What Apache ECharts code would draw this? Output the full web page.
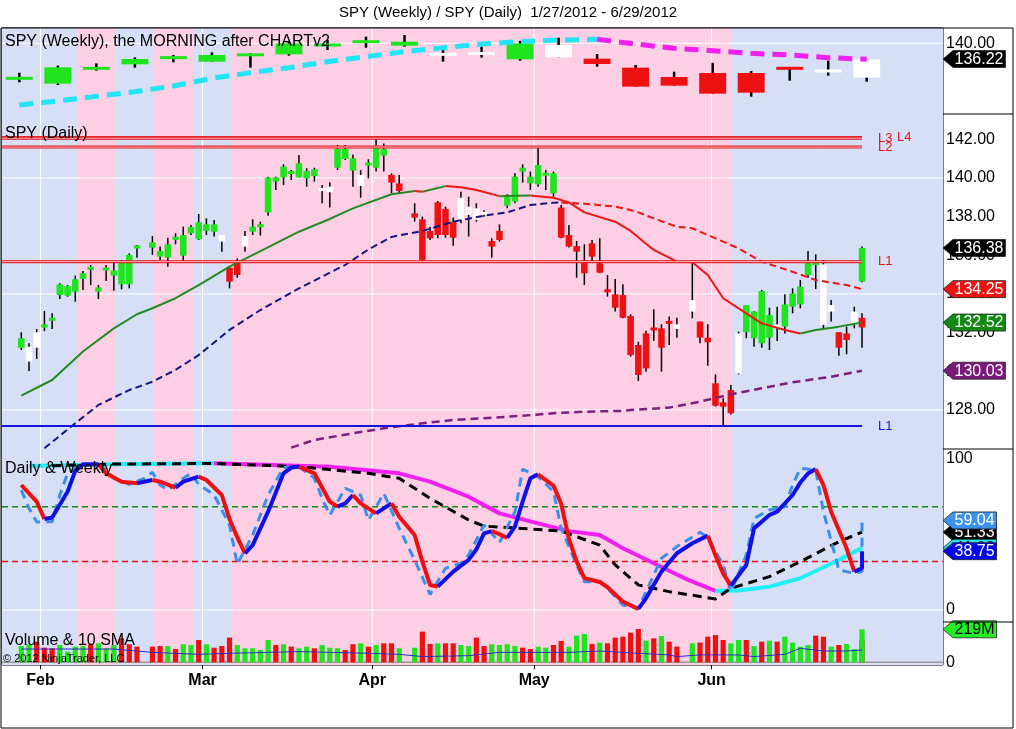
<!DOCTYPE html>
<html>
<head>
<meta charset="utf-8">
<title>SPY (Weekly) / SPY (Daily)</title>
<script src="https://cdn.jsdelivr.net/npm/echarts@6.0.0/dist/echarts.min.js"></script>
<style>
html,body{margin:0;padding:0;background:#fff;}
#chart{width:1016px;height:729px;}
</style>
</head>
<body>
<div id="chart"></div>
<script>
const FONT = '"Liberation Sans", Arial, Helvetica, sans-serif';

// ---------------- WEEKLY PANEL ----------------
const weeklyDates = ['1/27','2/3','2/10','2/17','2/24','3/2','3/9','3/16','3/23','3/30','4/5','4/13','4/20','4/27','5/4','5/11','5/18','5/25','6/1','6/8','6/15','6/22','6/29'];
// [bodyTop, bodyBottom, high, low, paint]
const weeklyBars = [
 [131.62,131.52,132.90,130.60,'G'],[134.21,130.27,134.61,129.95,'G'],[134.02,133.92,135.17,133.41,'G'],
 [136.22,134.93,136.62,134.13,'G'],[136.60,136.50,137.18,135.41,'G'],[137.18,135.57,137.82,135.57,'G'],
 [137.30,137.15,137.58,134.13,'G'],[139.99,137.34,140.39,137.02,'G'],[139.83,139.35,140.80,138.39,'G'],
 [140.45,140.33,141.60,138.95,'G'],[140.39,139.43,142.00,139.19,'G'],[137.40,137.28,138.39,135.57,'W'],
 [137.60,137.50,139.19,136.54,'W'],[139.99,136.14,140.60,135.81,'G'],[139.59,136.62,141.36,136.62,'W'],
 [136.30,135.01,137.42,134.37,'R'],[134.13,129.55,134.77,129.55,'R'],[131.88,129.79,133.16,129.79,'R'],
 [132.84,127.86,135.30,127.86,'R'],[132.84,128.10,133.33,127.14,'R'],[134.05,133.90,134.05,131.00,'R'],
 [133.38,133.28,135.81,132.20,'W'],[136.10,131.72,136.10,130.75,'W']
];
const weeklyMA = [125.13,126.10,127.22,128.34,129.71,131.56,132.92,134.13,135.57,136.78,137.98,138.95,139.83,140.39,140.80,140.96,139.83,138.79,138.22,137.58,137.18,136.54,136.14];
// background paint per week (B = blue, P = pink)
const weekBands = ['B','B','P','B','P','B','P','P','P','P','P','P','P','P','P','P','P','P','P','B','B','B','B'];

// ---------------- DAILY PANEL ----------------
// [date, bodyTop, bodyBottom, high, low, paint]
const dailyBars = [
['1/27',131.71,131.22,132.02,131.10,'G'],['1/30',131.27,130.50,131.45,130.02,'W'],['1/31',132.02,131.22,132.19,130.64,'W'],
['2/1',132.43,132.26,133.12,132.08,'G'],['2/2',132.69,132.69,133.00,132.19,'G'],['2/3',134.50,133.95,134.55,133.74,'G'],
['2/6',134.41,133.91,134.46,133.86,'G'],['2/7',134.76,134.12,134.95,133.60,'G'],['2/8',135.07,134.78,135.19,134.21,'G'],
['2/9',135.33,135.33,135.50,134.46,'G'],['2/10',134.34,134.12,134.46,133.74,'G'],['2/13',135.29,135.29,135.50,134.67,'G'],
['2/14',135.21,134.95,135.67,134.17,'G'],['2/15',135.64,134.50,135.76,134.24,'G'],['2/16',136.02,134.50,136.10,134.29,'G'],
['2/17',136.43,136.43,136.53,135.88,'G'],['2/21',136.67,136.40,137.00,136.02,'G'],['2/22',136.22,135.93,136.45,135.76,'G'],
['2/23',136.57,135.88,136.91,135.41,'G'],['2/24',136.88,136.88,137.14,136.57,'G'],['2/27',137.05,135.98,137.48,135.71,'G'],
['2/28',137.47,137.14,137.57,137.05,'G'],['2/29',137.71,136.83,138.14,136.79,'G'],['3/1',137.60,137.26,137.91,137.05,'G'],
['3/2',137.60,137.22,137.83,136.97,'G'],['3/5',137.05,136.71,137.05,136.19,'W'],['3/6',135.36,134.64,135.36,134.29,'R'],
['3/7',135.67,134.98,135.84,134.84,'R'],['3/8',137.00,136.45,137.26,136.19,'W'],['3/9',137.48,137.22,137.86,137.05,'G'],
['3/12',137.53,137.53,137.74,137.02,'G'],['3/13',140.02,138.22,140.07,138.05,'G'],['3/14',140.03,139.81,140.07,139.38,'G'],
['3/15',140.59,140.03,140.71,139.64,'G'],['3/16',140.28,140.28,140.41,139.90,'G'],['3/19',140.76,140.03,141.19,140.02,'G'],
['3/20',140.36,139.98,140.50,139.55,'G'],['3/21',140.45,140.10,140.53,139.81,'G'],['3/22',139.40,139.40,139.64,138.69,'W'],
['3/23',139.55,139.26,139.78,138.47,'W'],['3/26',141.50,140.53,141.71,140.41,'G'],['3/27',141.50,140.98,141.71,140.93,'G'],
['3/28',141.02,140.38,141.22,139.55,'G'],['3/29',140.16,139.59,140.41,138.98,'W'],['3/30',140.72,140.72,140.97,139.98,'G'],
['4/2',141.67,140.53,142.09,140.33,'G'],['4/3',141.50,141.16,141.79,140.33,'G'],['4/4',140.16,139.76,140.24,139.21,'R'],
['4/5',139.72,139.33,140.16,139.21,'R'],['4/9',138.17,137.95,138.69,137.74,'R'],['4/10',137.86,135.76,138.00,135.71,'R'],
['4/11',137.26,136.88,137.48,136.79,'R'],['4/12',138.74,137.05,138.81,136.88,'R'],['4/13',138.40,137.05,138.52,136.91,'R'],
['4/16',137.74,136.91,137.95,136.50,'R'],['4/17',138.98,137.83,139.29,137.66,'W'],['4/18',138.52,138.09,139.03,136.97,'W'],
['4/19',138.43,137.83,138.69,137.74,'W'],['4/20',138.17,138.17,138.33,138.00,'W'],['4/23',136.74,136.45,136.88,135.88,'R'],
['4/24',137.26,136.79,137.60,136.71,'R'],['4/25',139.12,138.57,139.16,138.43,'G'],['4/26',140.07,138.78,140.24,138.69,'G'],
['4/27',140.53,140.33,140.71,139.76,'G'],['4/30',140.07,139.72,140.33,139.38,'G'],['5/1',140.67,139.67,141.62,139.55,'G'],
['5/2',140.19,140.19,140.41,139.38,'G'],['5/3',140.24,139.21,140.33,139.03,'G'],['5/4',138.47,136.91,138.60,136.88,'R'],
['5/7',137.05,136.45,137.57,136.40,'R'],['5/8',136.48,136.19,136.74,134.84,'R'],['5/9',135.71,135.07,136.57,134.46,'R'],
['5/10',136.62,135.93,136.79,135.67,'R'],['5/11',135.59,135.10,136.88,135.07,'R'],['5/14',134.24,134.09,134.98,133.86,'R'],
['5/15',133.98,133.29,134.78,133.09,'R'],['5/16',133.95,132.77,134.50,132.74,'R'],['5/17',132.86,130.84,132.95,130.76,'R'],
['5/18',131.36,129.81,131.53,129.50,'R'],['5/21',131.96,130.15,132.10,129.98,'R'],['5/22',132.19,132.19,133.21,131.57,'R'],
['5/23',132.22,131.22,132.43,129.98,'R'],['5/24',132.53,132.53,132.83,131.36,'R'],['5/25',132.43,132.19,132.77,131.74,'W'],
['5/29',133.69,133.09,135.67,132.74,'W'],['5/30',132.57,131.74,132.57,131.45,'R'],['5/31',131.74,131.50,132.43,130.29,'R'],
['6/1',129.38,128.22,129.84,128.17,'R'],['6/4',128.39,128.17,128.60,127.14,'R'],['6/5',129.03,127.83,129.29,127.77,'R'],
['6/6',131.96,129.89,132.05,129.84,'W'],['6/7',133.43,132.02,133.43,131.71,'G'],['6/8',133.09,131.71,133.10,131.27,'G'],
['6/11',134.15,131.45,134.21,131.22,'G'],['6/12',132.91,131.74,133.29,131.10,'G'],['6/13',132.40,132.30,133.34,131.57,'W'],
['6/14',133.46,132.31,133.98,131.96,'G'],['6/15',134.03,133.34,134.29,133.00,'G'],['6/18',134.38,133.46,134.72,133.26,'G'],
['6/19',135.59,134.98,136.22,134.84,'G'],['6/20',135.67,135.50,136.05,134.26,'G'],['6/21',135.53,132.40,135.76,132.22,'W'],
['6/22',133.43,133.09,133.69,132.57,'W'],['6/25',132.02,131.22,132.02,130.81,'R'],['6/26',131.96,131.62,132.31,130.88,'R'],
['6/27',133.09,132.40,133.34,132.22,'W'],['6/28',132.77,132.27,133.00,131.22,'R'],['6/29',136.38,134.64,136.45,134.60,'G']
];
const ma20 = [['1/27',128.74],['2/2',129.55],['2/8',131.02],['2/14',132.22],['2/17',132.95],['2/21',133.26],['2/24',133.78],['2/29',134.46],['3/6',135.41],['3/12',136.22],['3/19',137.22],['3/23',137.88],['3/28',138.43],['4/4',139.16],['4/9',139.33],['4/10',139.29],['4/13',139.58],['4/17',139.52],['4/19',139.38],['4/24',139.06],['4/26',139.08],['4/30',139.10],['5/3',138.98],['5/7',138.74],['5/9',138.22],['5/15',137.74],['5/17',137.26],['5/21',136.60],['5/22',136.28],['5/25',135.67],['5/29',135.64],['5/31',134.98],['6/4',133.78],['6/7',133.00],['6/11',132.48],['6/14',132.14],['6/18',131.96],['6/20',132.14],['6/25',132.31],['6/28',132.52]];
const ma50 = [['2/1',126.02],['2/7',127.31],['2/10',128.26],['2/16',129.03],['2/21',129.46],['2/24',130.07],['2/29',130.84],['3/6',132.14],['3/12',133.17],['3/19',134.29],['3/23',135.10],['3/27',135.50],['3/30',136.30],['4/4',136.95],['4/10',137.26],['4/16',137.74],['4/20',138.05],['4/25',138.22],['4/30',138.60],['5/3',138.72],['5/4',138.73],['5/9',138.67],['5/15',138.52],['5/17',138.34],['5/18',138.22],['5/22',137.91],['5/25',137.48],['5/29',137.40],['6/1',136.88],['6/6',136.36],['6/11',135.67],['6/15',135.15],['6/20',134.72],['6/26',134.46],['6/28',134.25]];
const ma200 = [['3/16',126.05],['3/21',126.45],['3/28',126.79],['4/3',127.05],['4/10',127.31],['4/16',127.48],['4/20',127.57],['4/27',127.70],['5/3',127.83],['5/9',127.91],['5/16',127.95],['5/17',128.00],['5/21',128.05],['5/24',128.12],['5/30',128.43],['6/5',128.81],['6/11',129.12],['6/15',129.43],['6/22',129.72],['6/28',130.03]];
const levelNames  = ['L4','L3','L2','L1','L1'];
const levelValues = [142.10,142.06,141.60,135.67,127.17];
const levelKinds  = ['red','red','red','red','blue'];
const dailyTicks = [128,130,132,134,136,138,140,142];
const dailyGrid = [128,134,140];

// ---------------- OSCILLATOR PANEL ----------------
const oscSlow = [['1/27',82.4],['1/31',71.4],['2/1',60],['2/2',61],['2/6',78],['2/7',91.7],['2/8',96],['2/10',96],['2/13',90.1],['2/15',84.6],['2/17',83.5],['2/21',85.7],['2/22',84.6],['2/24',80.6],['2/27',84.6],['2/29',87.9],['3/1',85.7],['3/5',75.8],['3/6',60],['3/7',48],['3/8',37.4],['3/9',42.8],['3/13',64.8],['3/15',90.1],['3/16',93.9],['3/19',94.5],['3/21',90.1],['3/23',71.4],['3/26',68.1],['3/27',70.3],['3/28',75.8],['3/29',70.3],['4/2',63.7],['4/4',70.3],['4/5',61.5],['4/9',49.4],['4/10',31.9],['4/11',16.5],['4/12',15.4],['4/16',25.3],['4/18',33],['4/19',40],['4/20',50.5],['4/23',52],['4/24',50],['4/25',47.5],['4/26',55],['4/27',71.4],['4/30',86.8],['5/1',89.4],['5/3',82],['5/4',70],['5/7',47],['5/8',32],['5/9',21],['5/11',18.5],['5/14',15],['5/16',5.5],['5/18',0.7],['5/21',7.7],['5/23',25.3],['5/25',37.4],['5/29',44],['5/31',49],['6/1',36],['6/4',24],['6/5',16.1],['6/7',29.7],['6/8',53.8],['6/12',62.6],['6/13',64.8],['6/15',75.8],['6/18',84],['6/19',90],['6/20',92.9],['6/21',82.4],['6/22',64.8],['6/26',40.7],['6/27',25.3],['6/28',27.5],['6/29',38.75]];
const oscFast = [['1/27',79],['1/30',67],['1/31',58],['2/2',58.2],['2/3',75.8],['2/6',90],['2/8',96],['2/10',95.6],['2/13',92.3],['2/14',86.8],['2/16',82.8],['2/20',86.8],['2/21',90.8],['2/22',82.4],['2/23',79.1],['2/27',86.8],['2/28',90.1],['2/29',82.8],['3/2',75.8],['3/6',56],['3/7',30.1],['3/9',49.4],['3/13',75.8],['3/15',93.9],['3/19',94.5],['3/21',86.8],['3/22',73.6],['3/23',62.6],['3/27',80.2],['3/29',75.8],['3/30',59.3],['4/3',76.9],['4/5',53.8],['4/9',32.9],['4/11',10.3],['4/13',27.5],['4/17',30.8],['4/18',36.3],['4/20',56],['4/24',44.5],['4/26',64.8],['4/27',92.9],['5/1',87.9],['5/3',78],['5/4',53.8],['5/8',29.7],['5/9',18.7],['5/11',18.7],['5/14',14.3],['5/16',3.3],['5/18',1.1],['5/21',12.1],['5/23',34.1],['5/25',41.8],['5/30',51.2],['5/31',47.7],['6/4',29.7],['6/5',12.1],['6/7',36.3],['6/8',60.4],['6/12',65.9],['6/14',68.1],['6/15',82.4],['6/18',93.4],['6/20',92.3],['6/21',64.8],['6/25',26.4],['6/27',24.2],['6/28',25.3],['6/29',59.04]];
const weeklyD = [['2/2',95.1],['2/14',96.2],['3/2',96.6],['3/19',94.5],['3/30',90.1],['4/5',86.8],['4/11',73.6],['4/18',59.3],['4/20',55.3],['4/27',53.8],['5/4',52.0],['5/11',42.8],['5/15',29.7],['5/18',16.5],['5/24',12.1],['6/1',7.3],['6/5',14.3],['6/12',22.0],['6/18',31.9],['6/25',45.0],['6/28',51.33]];
const weeklyK = [['1/30',95.0],['2/14',96.0],['3/2',96.8],['3/23',94.5],['4/5',90.1],['4/11',84.6],['4/18',74.7],['4/24',63.7],['5/1',57.1],['5/7',52.0],['5/11',49.4],['5/16',40.7],['5/22',30.8],['5/28',20.9],['6/1',12.6],['6/6',12.8],['6/12',15.4],['6/18',20.9],['6/25',33.0],['6/28',41.02]];
const oscLevels = [68, 32];
const oscTicks = [0, 100];

// ---------------- VOLUME PANEL (millions) ----------------
const volume = [['1/27',108,'G'],['1/30',120,'G'],['1/31',137,'R'],['2/1',97,'R'],['2/2',93,'R'],['2/3',115,'G'],['2/6',71,'G'],['2/7',104,'G'],['2/8',108,'G'],['2/9',120,'R'],['2/10',126,'G'],['2/13',93,'G'],['2/14',115,'G'],['2/15',159,'R'],['2/16',120,'R'],['2/17',104,'R'],['2/21',104,'R'],['2/22',108,'R'],['2/23',108,'G'],['2/24',88,'R'],['2/27',120,'G'],['2/28',115,'G'],['2/29',148,'R'],['3/1',120,'G'],['3/2',97,'R'],['3/5',108,'R'],['3/6',164,'R'],['3/7',115,'G'],['3/8',93,'G'],['3/9',93,'G'],['3/12',82,'G'],['3/13',148,'G'],['3/14',115,'R'],['3/15',120,'G'],['3/16',104,'R'],['3/19',93,'G'],['3/20',104,'G'],['3/21',93,'R'],['3/22',115,'G'],['3/23',97,'G'],['3/26',93,'G'],['3/27',82,'R'],['3/28',120,'R'],['3/29',126,'G'],['3/30',104,'R'],['4/2',115,'G'],['4/3',126,'R'],['4/4',126,'R'],['4/5',93,'G'],['4/9',97,'G'],['4/10',204,'R'],['4/11',122,'R'],['4/12',126,'G'],['4/13',126,'R'],['4/16',126,'R'],['4/17',115,'G'],['4/18',108,'G'],['4/19',164,'R'],['4/20',108,'R'],['4/23',120,'G'],['4/24',115,'G'],['4/25',120,'G'],['4/26',108,'G'],['4/27',97,'R'],['4/30',88,'R'],['5/1',104,'G'],['5/2',97,'G'],['5/3',115,'R'],['5/4',142,'R'],['5/7',104,'G'],['5/8',177,'G'],['5/9',188,'G'],['5/10',122,'R'],['5/11',131,'G'],['5/14',126,'R'],['5/15',164,'R'],['5/16',170,'R'],['5/17',197,'R'],['5/18',221,'R'],['5/21',144,'G'],['5/22',159,'R'],['5/23',175,'G'],['5/24',137,'R'],['5/25',104,'R'],['5/29',126,'G'],['5/30',131,'R'],['5/31',170,'R'],['6/1',181,'R'],['6/4',148,'R'],['6/5',126,'G'],['6/6',148,'G'],['6/7',148,'R'],['6/8',108,'G'],['6/11',137,'R'],['6/12',144,'G'],['6/13',137,'R'],['6/14',170,'G'],['6/15',131,'G'],['6/18',104,'G'],['6/19',115,'G'],['6/20',177,'R'],['6/21',170,'R'],['6/22',104,'G'],['6/25',115,'R'],['6/26',122,'G'],['6/27',88,'G'],['6/28',150,'R'],['6/29',219,'G']];
const volSma = [['1/27',88],['2/6',88],['2/14',88],['2/21',66],['2/29',53],['3/6',60],['3/13',66],['3/19',71],['3/23',66],['3/30',60],['4/5',53],['4/10',38],['4/18',44],['4/24',66],['5/1',66],['5/7',66],['5/11',75],['5/18',60],['5/24',49],['5/25',38],['5/30',49],['6/6',49],['6/8',38],['6/14',53],['6/18',93],['6/21',75],['6/26',75],['6/28',82]];

// ---------------- last-value tags (right axis) ----------------
const weeklyTags = [{v:136.22, text:'136.22', bg:'#000000', fg:'#ffffff'}];
const dailyTags  = [{v:136.38, text:'136.38', bg:'#000000', fg:'#ffffff'},
                    {v:134.25, text:'134.25', bg:'#ee1111', fg:'#ffffff'},
                    {v:132.52, text:'132.52', bg:'#138a13', fg:'#ffffff'},
                    {v:130.03, text:'130.03', bg:'#7a1a7a', fg:'#ffffff'}];
const oscTags    = [{v:51.33, text:'51.33', bg:'#000000', fg:'#ffffff'},
                    {v:41.02, text:'41.02', bg:'#22e6f0', fg:'#000000'},
                    {v:59.04, text:'59.04', bg:'#3b93ee', fg:'#ffffff'},
                    {v:38.75, text:'38.75', bg:'#0000ee', fg:'#ffffff'}];
const volTags    = [{v:219, text:'219M', bg:'#22ee22', fg:'#000000'}];

// ---------------- slots (NinjaTrader keeps a slot for every weekday) ----------------
const slotDates = [];
for (let d = new Date(2012,0,27); d <= new Date(2012,5,28); d.setDate(d.getDate()+1)) {
  const wd = d.getDay(); if (wd > 0 && wd < 6) slotDates.push((d.getMonth()+1) + '/' + d.getDate());
}
const slotOf = {}; slotDates.forEach((s,i) => slotOf[s] = i);
slotOf['6/29'] = slotOf['6/28']; // the "morning after" bar is drawn on the last slot, as in the reference
const monthNames = ['Jan','Feb','Mar','Apr','May','Jun'];
const monthBounds = []; const monthLabel = {};
slotDates.forEach((s,i) => { if (i > 0 && s.split('/')[0] !== slotDates[i-1].split('/')[0]) { monthBounds.push(i - 0.5); monthLabel[(i-0.5).toFixed(1)] = monthNames[+s.split('/')[0]-1]; } });

// axis ranges
const X_RANGE = [-2.5, 119.5];     // daily slots
const W_RANGE = [-0.45, 23.98];    // weekly bars
const Y_RANGE = [[122.96,143.69],[125.98,143.31],[-7.91,106.13],[-17.9,267.6]];

const PAINT = {G:'#1fe41f', R:'#ee1111', W:'#ffffff'};
const BAND = {B:'#d6dff5', P:'#fdcfe5'};

// ---------------- helpers ----------------
const pts = arr => arr.map(p => [slotOf[p[0]], p[1]]);
function slopeRuns(p, up, down) {
  const runs = []; let cur = null;
  for (let i = 1; i < p.length; i++) {
    const c = p[i][1] >= p[i-1][1] ? up : down;
    if (!cur || cur.color !== c) { cur = {color:c, pts:[p[i-1]]}; runs.push(cur); }
    cur.pts.push(p[i]);
  }
  return runs;
}
function lineS(data, xi, yi, color, width, type, extra) {
  return Object.assign({type:'line', xAxisIndex:xi, yAxisIndex:yi, data, showSymbol:false, symbol:'none', silent:true,
    animation:false, lineStyle:{color, width, type: type || 'solid', cap:'butt'}, z:5}, extra || {});
}
function candleRender(frac, wick) {
  return function(params, api) {
    const x = api.value(0), a = api.value(1), b = api.value(2), hi = api.value(3), lo = api.value(4);
    const pH = api.coord([x, hi]), pL = api.coord([x, lo]);
    const pT = api.coord([x, Math.max(a,b)]), pB = api.coord([x, Math.min(a,b)]);
    const bw = api.size([1, 0])[0] * frac;
    let y0 = pT[1], h = pB[1] - pT[1];
    if (h < 3) { y0 = (pT[1] + pB[1]) / 2 - 1.5; h = 3; }
    return {type:'group', children:[
      {type:'line', shape:{x1:pH[0], y1:pH[1], x2:pL[0], y2:pL[1]}, style:{stroke:'#000', lineWidth:wick}},
      {type:'rect', shape:{x:pT[0]-bw/2, y:y0, width:bw, height:h}, style:{fill:api.visual('color')}}
    ]};
  };
}
function vLines(xi, yi, vals, color) {
  return {type:'custom', xAxisIndex:xi, yAxisIndex:yi, silent:true, z:2, data: vals.map(v => [v]), encode:{x:0},
    renderItem:(params, api) => { const cs = params.coordSys; const x = api.coord([api.value(0), 0])[0];
      return {type:'line', shape:{x1:x, y1:cs.y, x2:x, y2:cs.y+cs.height}, style:{stroke:color, lineWidth:1}}; }};
}
function hLines(xi, yi, vals, color, width, dash) {
  return {type:'custom', xAxisIndex:xi, yAxisIndex:yi, silent:true, z:2, data: vals.map(v => [v]), encode:{y:0},
    renderItem:(params, api) => { const cs = params.coordSys; const y = api.coord([X_RANGE[0], api.value(0)])[1];
      return {type:'line', shape:{x1:cs.x, y1:y, x2:cs.x+cs.width, y2:y}, style:{stroke:color, lineWidth:width, lineDash:dash || null}}; }};
}
// merge week bands
const bandRanges = [];
weekBands.forEach((c,i) => {
  const last = bandRanges[bandRanges.length-1];
  if (last && last.c === c) last.e = i + 0.5; else bandRanges.push({s: i - 0.5, e: i + 0.5, c});
});
bandRanges[0].s = W_RANGE[0]; bandRanges[bandRanges.length-1].e = W_RANGE[1];
function bands(xi, yi) {
  return {type:'custom', xAxisIndex:xi, yAxisIndex:yi, silent:true, z:1,
    data: bandRanges.map(b => ({value:[b.s, b.e], itemStyle:{color:BAND[b.c]}})), encode:{x:[0,1]},
    renderItem:(params, api) => { const cs = params.coordSys;
      const x0 = Math.round(api.coord([api.value(0), 0])[0]), x1 = Math.round(api.coord([api.value(1), 0])[0]);
      return {type:'rect', shape:{x:x0, y:cs.y, width:x1-x0, height:cs.height}, style:{fill:api.visual('color')}}; }};
}
const measureCtx = document.createElement('canvas').getContext('2d');
measureCtx.font = '16px ' + FONT;
function tagSeries(xi, yi, tags) {
  return {type:'custom', xAxisIndex:xi, yAxisIndex:yi, silent:true, z:30, clip:false, encode:{y:0},
    data: tags.map(t => ({value:[t.v], itemStyle:{color:t.bg}})),
    renderItem:(params, api) => {
      const t = tags[params.dataIndex]; const cs = params.coordSys;
      const y = api.coord([X_RANGE[0], api.value(0)])[1]; const x0 = cs.x + cs.width;
      const w = measureCtx.measureText(t.text).width; const h = 8.5; const xr = x0 + 10 + w + 3.5;
      return {type:'group', children:[
        {type:'polygon', shape:{points:[[x0, y],[x0+10, y-h],[xr, y-h],[xr, y+h],[x0+10, y+h]]},
         style:{fill:t.bg, stroke:'#222', lineWidth:0.8}},
        {type:'text', style:{text:t.text, x:x0+11.5, y:y+0.5, fill:t.fg, font:'16px ' + FONT,
         textVerticalAlign:'middle', verticalAlign:'middle'}}
      ]};
    }};
}

// ---------------- grids & axes ----------------
const gridTops = [28, 114, 449, 622], gridHeights = [86, 335, 173, 43];
const grid = gridTops.map((t,i) => ({left:2, right:73, top:t, height:gridHeights[i], show:true, borderColor:'#000', borderWidth:1,
  backgroundColor:'transparent', containLabel:false, outerBoundsMode:'none'}));
const xAxis = [];
grid.forEach((g, gi) => {
  const bottom = gi === 3;
  xAxis.push({type:'value', gridIndex:gi, min:X_RANGE[0], max:X_RANGE[1], show:bottom, position:'bottom',
    axisLine:{show:false}, splitLine:{show:false},
    axisTick:{show:bottom, customValues:monthBounds, length:7, lineStyle:{color:'#000'}},
    axisLabel:{show:bottom, customValues:monthBounds, formatter:v => monthLabel[(+v).toFixed(1)] || '', color:'#000',
      fontSize:16, fontWeight:'bold', fontFamily:FONT, margin:8}});
  xAxis.push({type:'value', gridIndex:gi, min:W_RANGE[0], max:W_RANGE[1], show:false});
});
const yAxis = [];
function mainY(gi, vals, fmt) {
  yAxis.push({type:'value', gridIndex:gi, position:'right', min:Y_RANGE[gi][0], max:Y_RANGE[gi][1],
    splitLine:{show:false}, axisLine:{show:false},
    axisTick:{show:true, customValues:vals, length:5, lineStyle:{color:'#000'}},
    axisLabel:{customValues:vals, formatter:fmt, color:'#000', fontSize:16, fontFamily:FONT, margin:3}});
  return yAxis.length - 1;
}
const Y0 = mainY(0, [140], v => (+v).toFixed(2));
const Y1 = mainY(1, dailyTicks, v => (+v).toFixed(2));
const Y2 = mainY(2, oscTicks, v => String(Math.round(v)));
const Y3 = mainY(3, [0], () => '0');

// ---------------- series ----------------
const series = [];
// weekly panel
series.push(bands(1, Y0));
series.push(vLines(0, Y0, monthBounds, '#ffffff'));
series.push(hLines(0, Y0, [140], '#ffffff', 1));
series.push({type:'custom', xAxisIndex:1, yAxisIndex:Y0, silent:true, z:4, renderItem:candleRender(0.7, 2.5), encode:{x:0, y:[1,2,3,4]},
  data: weeklyBars.map((b,i) => ({value:[i, b[0], b[1], b[2], b[3]], itemStyle:{color:PAINT[b[4]]}}))});
slopeRuns(weeklyMA.map((v,i) => [i, v]), '#22e4f4', '#f020f0').forEach(r =>
  series.push(lineS(r.pts, 1, Y0, r.color, 5, [14, 8])));
series.push(tagSeries(0, Y0, weeklyTags));

// daily panel
series.push(bands(3, Y1));
series.push(vLines(2, Y1, monthBounds, '#ffffff'));
series.push(hLines(2, Y1, dailyGrid, '#ffffff', 1));
series.push({type:'custom', xAxisIndex:2, yAxisIndex:Y1, silent:true, z:4, renderItem:candleRender(0.85, 1.5), encode:{x:0, y:[1,2,3,4]},
  data: dailyBars.map(b => ({value:[slotOf[b[0]], b[1], b[2], b[3], b[4]], itemStyle:{color:PAINT[b[5]]}}))});
series.push(lineS(pts(ma200), 2, Y1, '#7d1f7d', 2.5, [8, 5]));
slopeRuns(pts(ma50), '#161680', '#ee1515').forEach(r => series.push(lineS(r.pts, 2, Y1, r.color, 2, [7, 4])));
slopeRuns(pts(ma20), '#238a23', '#ee1515').forEach(r => series.push(lineS(r.pts, 2, Y1, r.color, 2)));
const lastSlot = slotDates.length - 1;
levelValues.forEach((v, i) => {
  const red = levelKinds[i] === 'red';
  const d = [[X_RANGE[0], v], [lastSlot, v]];
  const dist = levelNames[i] === 'L4' ? 35 : 16;
  if (red) {
    series.push(lineS(d, 2, Y1, '#e01515', 3, 'solid', {z:6}));
    series.push(lineS(d, 2, Y1, '#ffb8c8', 1, 'solid', {z:6,
      endLabel:{show:true, formatter:levelNames[i], color:'#e01515', fontSize:13, fontFamily:FONT, distance:dist}}));
  } else {
    series.push(lineS(d, 2, Y1, '#1414d8', 2, 'solid', {z:6,
      endLabel:{show:true, formatter:levelNames[i], color:'#1414d8', fontSize:13, fontFamily:FONT, distance:dist}}));
  }
});
series.push(tagSeries(2, Y1, dailyTags));

// oscillator panel
series.push(bands(5, Y2));
series.push(vLines(4, Y2, monthBounds, '#ffffff'));
series.push(hLines(4, Y2, [0], '#ffffff', 1));
series.push(hLines(4, Y2, [oscLevels[0]], '#138a13', 1.5, [6, 4]));
series.push(hLines(4, Y2, [oscLevels[1]], '#e01515', 1.5, [6, 4]));
slopeRuns(pts(weeklyK), '#22eef6', '#f020f0').forEach(r => series.push(lineS(r.pts, 4, Y2, r.color, 4)));
series.push(lineS(pts(weeklyD), 4, Y2, '#000000', 3, [9, 6]));
series.push(lineS(pts(oscFast), 4, Y2, '#3b8fe8', 3, [9, 6]));
slopeRuns(pts(oscSlow), '#1010e6', '#ee1010').forEach(r => series.push(lineS(r.pts, 4, Y2, r.color, 4)));
series.push(tagSeries(4, Y2, oscTags));

// volume panel
series.push(bands(7, Y3));
series.push(vLines(6, Y3, monthBounds, '#ffffff'));
series.push(hLines(6, Y3, [0], '#9a9a9a', 1.5));
series.push({type:'custom', xAxisIndex:6, yAxisIndex:Y3, silent:true, z:4, encode:{x:0, y:1},
  data: volume.map(v => ({value:[slotOf[v[0]], v[1]], itemStyle:{color:PAINT[v[2]]}})),
  renderItem:(params, api) => { const p0 = api.coord([api.value(0), 0]), p1 = api.coord([api.value(0), api.value(1)]);
    return {type:'rect', shape:{x:p0[0]-2.6, y:p1[1], width:5.2, height:p0[1]-p1[1]}, style:{fill:api.visual('color')}}; }});
series.push(lineS(pts(volSma), 6, Y3, '#2a2ac8', 1));
series.push(tagSeries(6, Y3, volTags));

// ---------------- texts & frame ----------------
const txt = (text, x, y, size, extra) => Object.assign({type:'text', z:100, silent:true,
  style:{text, x, y, font: size + 'px ' + FONT, fill:'#000', textVerticalAlign:'middle'}}, extra || {});
const graphic = [
  {type:'rect', z:50, silent:true, shape:{x:1, y:28, width:1012, height:700}, style:{fill:null, stroke:'#000', lineWidth:1}},
  {type:'line', z:50, silent:true, shape:{x1:943, y1:114, x2:1013, y2:114}, style:{stroke:'#000', lineWidth:1}},
  {type:'line', z:50, silent:true, shape:{x1:943, y1:449, x2:1013, y2:449}, style:{stroke:'#000', lineWidth:1}},
  {type:'line', z:50, silent:true, shape:{x1:943, y1:622, x2:1013, y2:622}, style:{stroke:'#000', lineWidth:1}},
  txt('SPY (Weekly) / SPY (Daily)  1/27/2012 - 6/29/2012', 508, 13, 15),
  txt('SPY (Weekly), the MORNING after CHARTv2', 5, 42, 16),
  txt('SPY (Daily)', 5, 134, 16),
  txt('Daily & Weekly', 5, 469, 16),
  txt('Volume & 10 SMA', 5, 641, 16),
  txt('\u00A9 2012 NinjaTrader, LLC', 3, 659, 11)
];
graphic[4].style.textAlign = 'center';

const chart = echarts.init(document.getElementById('chart'), null, {renderer:'canvas'});
chart.setOption({animation:false, backgroundColor:'#ffffff', grid, xAxis, yAxis, series, graphic});
</script>
</body>
</html>
